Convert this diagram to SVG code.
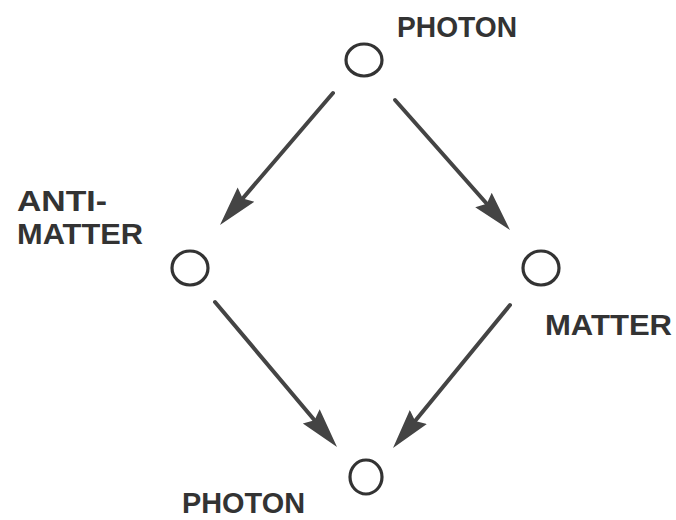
<svg xmlns="http://www.w3.org/2000/svg" width="676" height="520" viewBox="0 0 676 520">
  <style>
    .node ellipse { fill: none; stroke: #333; stroke-width: 3.2; }
    .label { font-family: "Liberation Sans", Arial, sans-serif; font-weight: bold; font-size: 29px; fill: #333; }
    .edge { stroke: #444; stroke-width: 4; stroke-linecap: round; fill: none; }
  </style>
  <defs>
    <marker id="head" viewBox="0 0 40 24" refX="10" refY="12" markerWidth="40" markerHeight="24" markerUnits="userSpaceOnUse" orient="auto">
      <path d="M0,1 L40,12 L0,23 L5,12 Z" fill="#444"/>
    </marker>
  </defs>
  <rect width="676" height="520" fill="#fff"/>

  <g id="connectors">
    <line class="edge" x1="333" y1="93" x2="239.5" y2="202.2" marker-end="url(#head)"/>
    <line class="edge" x1="395" y1="100" x2="490.1" y2="207.5" marker-end="url(#head)"/>
    <line class="edge" x1="215" y1="302" x2="317.7" y2="424" marker-end="url(#head)"/>
    <line class="edge" x1="510" y1="305" x2="412" y2="424.8" marker-end="url(#head)"/>
  </g>

  <g id="photon-top" class="node">
    <ellipse cx="364" cy="60" rx="18" ry="16"/>
    <text class="label" x="397" y="37" textLength="120" lengthAdjust="spacingAndGlyphs">PHOTON</text>
  </g>

  <g id="antimatter" class="node">
    <ellipse cx="190" cy="268" rx="18" ry="17"/>
    <text class="label" x="17" y="211" textLength="90" lengthAdjust="spacingAndGlyphs">ANTI-</text>
    <text class="label" x="17" y="244" textLength="126" lengthAdjust="spacingAndGlyphs">MATTER</text>
  </g>

  <g id="matter" class="node">
    <ellipse cx="541" cy="268" rx="18" ry="17"/>
    <text class="label" x="545" y="335" textLength="127" lengthAdjust="spacingAndGlyphs">MATTER</text>
  </g>

  <g id="photon-bottom" class="node">
    <ellipse cx="366" cy="477" rx="16" ry="17"/>
    <text class="label" x="182" y="513" textLength="123" lengthAdjust="spacingAndGlyphs">PHOTON</text>
  </g>
</svg>
